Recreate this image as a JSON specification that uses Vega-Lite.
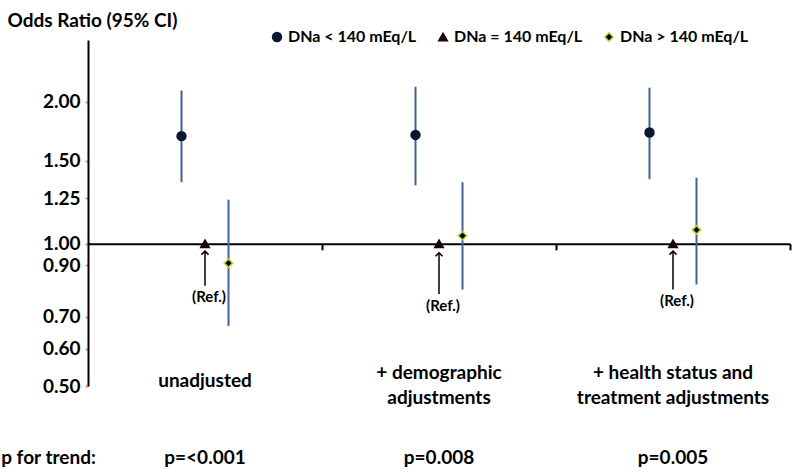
{
  "$schema": "https://vega.github.io/schema/vega-lite/v6.json",
  "width": 702,
  "height": 346,
  "autosize": {"type": "none"},
  "padding": {"left": 88, "top": 40, "right": 10, "bottom": 90},
  "config": {
    "view": {"stroke": null},
    "font": "Lato",
    "text": {"font": "Lato"},
    "legend": {"title": null, "orient": "none", "legendX": 181, "legendY": -11, "direction": "horizontal", "columnPadding": 18, "labelFontSize": 16, "labelFontWeight": "bold", "labelColor": "#000000", "labelFont": "Lato", "labelLimit": 300, "labelOffset": 3}
  },
  "datasets": {
    "est": [
      {"model": "unadjusted", "group": "DNa < 140 mEq/L", "or": 1.69, "lo": 1.35, "hi": 2.11},
      {"model": "unadjusted", "group": "DNa = 140 mEq/L", "or": 1.0, "lo": null, "hi": null},
      {"model": "unadjusted", "group": "DNa > 140 mEq/L", "or": 0.91, "lo": 0.67, "hi": 1.24},
      {"model": "+ demographic adjustments", "group": "DNa < 140 mEq/L", "or": 1.70, "lo": 1.33, "hi": 2.15},
      {"model": "+ demographic adjustments", "group": "DNa = 140 mEq/L", "or": 1.0, "lo": null, "hi": null},
      {"model": "+ demographic adjustments", "group": "DNa > 140 mEq/L", "or": 1.04, "lo": 0.80, "hi": 1.35},
      {"model": "+ health status and treatment adjustments", "group": "DNa < 140 mEq/L", "or": 1.72, "lo": 1.37, "hi": 2.14},
      {"model": "+ health status and treatment adjustments", "group": "DNa = 140 mEq/L", "or": 1.0, "lo": null, "hi": null},
      {"model": "+ health status and treatment adjustments", "group": "DNa > 140 mEq/L", "or": 1.07, "lo": 0.82, "hi": 1.38}
    ],
    "notes": [
      {"model": "unadjusted", "group": "DNa = 140 mEq/L", "tail": 0.815, "head": 0.965, "label": 0.772, "p": "p=<0.001"},
      {"model": "+ demographic adjustments", "group": "DNa = 140 mEq/L", "tail": 0.783, "head": 0.957, "label": 0.739, "p": "p=0.008"},
      {"model": "+ health status and treatment adjustments", "group": "DNa = 140 mEq/L", "tail": 0.80, "head": 0.965, "label": 0.757, "p": "p=0.005"}
    ]
  },
  "encoding": {
    "x": {
      "field": "model",
      "type": "nominal",
      "sort": null,
      "scale": {"domain": ["unadjusted", "+ demographic adjustments", "+ health status and treatment adjustments"], "paddingInner": 0, "paddingOuter": 0},
      "axis": {
        "title": "p for trend:",
        "titleX": -40,
        "titleY": 214,
        "titleAlign": "center",
        "titleBaseline": "middle",
        "titleFontSize": 19,
        "titleFontWeight": "bold",
        "titleColor": "#000000",
        "titleFont": "Lato",
        "offset": -142.2,
        "bandPosition": 1,
        "tickSize": 6,
        "tickWidth": 2,
        "tickColor": "#000000",
        "domainColor": "#000000",
        "domainWidth": 2,
        "labelAngle": 0,
        "labelPadding": {"condition": {"test": "datum.value == 'unadjusted'", "value": 131}, "value": 123},
        "labelBaseline": "middle",
        "labelAlign": "center",
        "labelFontSize": 19,
        "labelFontWeight": "bold",
        "labelColor": "#000000",
        "labelFont": "Lato",
        "labelLineHeight": 25,
        "labelLimit": 300,
        "labelExpr": "datum.value == 'unadjusted' ? 'unadjusted' : datum.value == '+ demographic adjustments' ? ['+ demographic', 'adjustments'] : ['+ health status and', 'treatment adjustments']"
      }
    },
    "xOffset": {
      "field": "group",
      "type": "nominal",
      "scale": {"type": "point", "padding": 0, "range": [93.5, 140.5], "domain": ["DNa < 140 mEq/L", "DNa = 140 mEq/L", "DNa > 140 mEq/L"]}
    }
  },
  "layer": [
    {
      "data": {"name": "est"},
      "transform": [{"filter": "isValid(datum.lo)"}],
      "mark": {"type": "rule", "color": "#41639a", "strokeWidth": 2},
      "encoding": {
        "y": {
          "field": "lo",
          "type": "quantitative",
          "scale": {"type": "log", "domain": [0.5, 2.7], "nice": false, "zero": false},
          "axis": {
            "title": "Odds Ratio (95% CI)",
            "titleAngle": 0,
            "titleAlign": "left",
            "titleBaseline": "alphabetic",
            "titleX": -81,
            "titleY": -14,
            "titleFontSize": 19,
            "titleFontWeight": "bold",
            "titleColor": "#000000",
            "titleFont": "Lato",
            "values": [0.5, 0.6, 0.7, 0.9, 1.0, 1.25, 1.5, 2.0],
            "format": ".2f",
            "grid": false,
            "domainColor": "#000000",
            "domainWidth": 2,
            "tickColor": "#e0a060",
            "tickSize": 3,
            "tickWidth": 2,
            "labelPadding": 5,
            "labelFontSize": 19,
            "labelFontWeight": "bold",
            "labelColor": "#000000",
            "labelFont": "Lato"
          }
        },
        "y2": {"field": "hi"}
      }
    },
    {
      "data": {"name": "est"},
      "mark": {"type": "point", "filled": true, "opacity": 1, "strokeWidth": 1.5},
      "encoding": {
        "y": {"field": "or", "type": "quantitative"},
        "shape": {
          "field": "group", "type": "nominal",
          "scale": {"domain": ["DNa < 140 mEq/L", "DNa = 140 mEq/L", "DNa > 140 mEq/L"], "range": ["circle", "triangle-up", "diamond"]}
        },
        "fill": {
          "field": "group", "type": "nominal",
          "scale": {"domain": ["DNa < 140 mEq/L", "DNa = 140 mEq/L", "DNa > 140 mEq/L"], "range": ["#0a1633", "#1a0606", "#000000"]}
        },
        "stroke": {
          "field": "group", "type": "nominal",
          "scale": {"domain": ["DNa < 140 mEq/L", "DNa = 140 mEq/L", "DNa > 140 mEq/L"], "range": ["#0a1633", "#1a0606", "#b8d430"]}
        },
        "size": {
          "field": "group", "type": "nominal",
          "scale": {"domain": ["DNa < 140 mEq/L", "DNa = 140 mEq/L", "DNa > 140 mEq/L"], "range": [80, 70, 45]}
        }
      }
    },
    {
      "data": {"name": "notes"},
      "mark": {"type": "rule", "color": "#000000", "strokeWidth": 1.5},
      "encoding": {
        "y": {"field": "tail", "type": "quantitative"},
        "y2": {"field": "head"}
      }
    },
    {
      "data": {"name": "notes"},
      "mark": {"type": "point", "shape": "M-1,1L0,0L1,1", "filled": false, "stroke": "#000000", "strokeWidth": 1.5, "size": 50, "opacity": 1},
      "encoding": {
        "y": {"field": "head", "type": "quantitative"}
      }
    },
    {
      "data": {"name": "notes"},
      "mark": {"type": "text", "text": "(Ref.)", "font": "Lato", "fontSize": 15, "fontWeight": "bold", "color": "#000000", "dx": 4, "baseline": "middle"},
      "encoding": {
        "y": {"field": "label", "type": "quantitative"}
      }
    },
    {
      "data": {"name": "notes"},
      "mark": {"type": "text", "font": "Lato", "fontSize": 19, "fontWeight": "bold", "color": "#000000", "baseline": "middle"},
      "encoding": {
        "y": {"datum": 0.352, "type": "quantitative"},
        "text": {"field": "p"}
      }
    }
  ]
}
